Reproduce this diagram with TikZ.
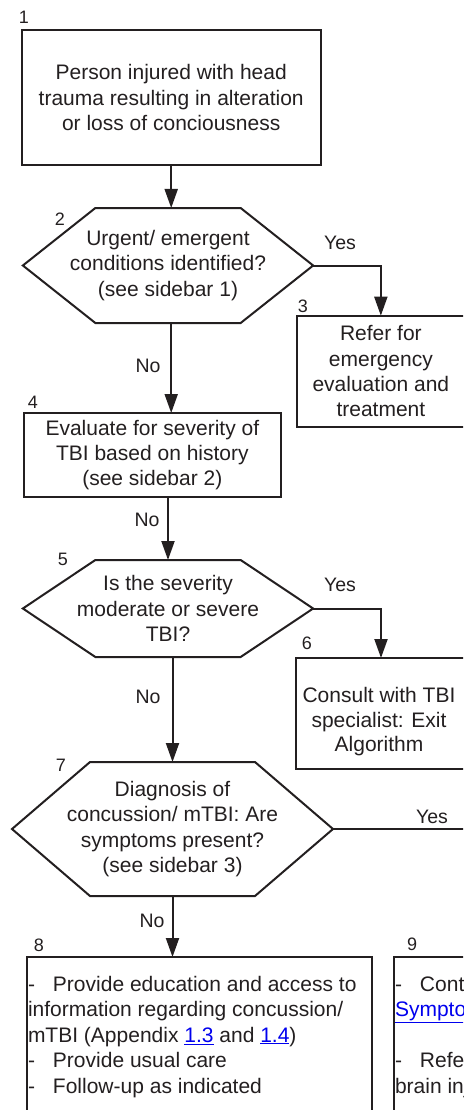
\documentclass[tikz,border=0pt]{standalone}
\usepackage{fontspec}
\setmainfont{Liberation Sans}
\usetikzlibrary{arrows.meta,calc}
\definecolor{ink}{HTML}{231F20}
\definecolor{linkblue}{HTML}{0000EE}
\newcommand{\lnk}[1]{\textcolor{linkblue}{\underline{#1}}}
\newcommand{\dsh}{\makebox[25pt][l]{-}}
\tikzset{
  box/.style={draw=ink, line width=2pt, inner sep=0pt, outer sep=0pt, align=center, text=ink, font=\fontsize{21}{25.4}\selectfont},
  boxtext/.style={inner sep=0pt, outer sep=0pt, align=center, text=ink, font=\fontsize{21}{24.5}\selectfont},
  hexa/.style={inner sep=0pt, outer sep=0pt, align=center, text=ink, font=\fontsize{21}{25.2}\selectfont},
  hexline/.style={draw=ink, line width=2pt, line join=miter},
  num/.style={text=ink, font=\fontsize{18}{20}\selectfont, inner sep=0pt},
  yn/.style={text=ink, font=\fontsize{19.5}{22}\selectfont, inner sep=0pt},
  arr/.style={draw=ink, line width=2pt, -{Triangle[length=19pt,width=13pt]}},
  conn/.style={draw=ink, line width=2pt},
  listtext/.style={text=ink, inner sep=0pt, outer sep=0pt, align=left, font=\fontsize{21}{25.5}\selectfont},
}
\begin{document}
\begin{tikzpicture}[x=1pt,y=-1pt]
\useasboundingbox (0,0) rectangle (463,1110);
\clip (0,0) rectangle (463,1110);

% boxes
\node[box, minimum width=299, minimum height=135] (b1) at (171.2,97.5)
  {Person injured with head\\trauma resulting in alteration\\or loss of conciousness};
\node[num] (n1) at (24,17) {1};

\node[hexa, minimum width=290.3, minimum height=115] (h2) at (168,265.5)
  {Urgent/ emergent\\conditions identified?\\(see sidebar 1)};
\draw[hexline] ([xshift=72.5]h2.north west) -- ([xshift=-72.5]h2.north east) -- (h2.east)
  -- ([xshift=-72.5]h2.south east) -- ([xshift=72.5]h2.south west) -- (h2.west) -- cycle;
\node[num] (n2) at (60,219) {2};

\node[box, minimum width=168.3, minimum height=111.3] (b3) at (380.85,371.35)
  {Refer for\\emergency\\evaluation and\\treatment};
\node[num] (n3) at (303,306) {3};

\node[box, minimum width=256.7, minimum height=84] (b4) at (152.35,455)
  {Evaluate for severity of\\TBI based on history\\(see sidebar 2)};
\node[num] (n4) at (33,402) {4};

\node[hexa, minimum width=290.3, minimum height=97] (h5) at (168,608.5)
  {Is the severity\\moderate or severe\\TBI?};
\draw[hexline] ([xshift=72.5]h5.north west) -- ([xshift=-72.5]h5.north east) -- (h5.east)
  -- ([xshift=-72.5]h5.south east) -- ([xshift=72.5]h5.south west) -- (h5.west) -- cycle;
\node[num] (n5) at (63,559) {5};

\node[box, minimum width=170, minimum height=111] (b6) at (381,713.5) {};
\node[boxtext] (t6) at (379,722) {Consult with TBI\\specialist: Exit\\Algorithm};
\node[num] (n6) at (307,643) {6};

\node[hexa, minimum width=321, minimum height=134] (h7) at (172.5,829)
  {Diagnosis of\\concussion/ mTBI: Are\\symptoms present?\\(see sidebar 3)};
\draw[hexline] ([xshift=78]h7.north west) -- ([xshift=-78]h7.north east) -- (h7.east)
  -- ([xshift=-78]h7.south east) -- ([xshift=78]h7.south west) -- (h7.west) -- cycle;
\node[num] (n7) at (61,765) {7};

\node[box, minimum width=345, minimum height=200, anchor=north west] (b8) at (27,957) {};
\node[num] (n8) at (39,945) {8};
\node[listtext, anchor=north west] (t8) at (28,976)
  {\dsh Provide education and access to\\
   information regarding concussion/\\
   mTBI (Appendix \lnk{1.3} and \lnk{1.4})\\
   \dsh Provide usual care\\
   \dsh Follow-up as indicated};

\node[box, minimum width=345, minimum height=200, anchor=north west] (b9) at (394.3,957) {};
\node[num] (n9) at (412,944) {9};
\node[listtext, anchor=north west] (t9) at (395,976)
  {\dsh Continue\\
   \lnk{Symptom}\\[25.5pt]
   \dsh Refer\\
   brain injury};

% connectors
\draw[arr] (b1.south) -- (b1.south |- h2.north);
\draw[arr] (h2.east) -| (b3.north);
\node[yn] (y2) at (340,243) {Yes};
\draw[arr] (b1.south |- h2.south) -- (b1.south |- b4.north);
\node[yn] (no2) at (148,366) {No};
\draw[arr] (h5.north |- b4.south) -- (h5.north);
\node[yn] (no4) at (147,520) {No};
\draw[arr] (h5.east) -| (b6.north);
\node[yn] (y5) at (340,585) {Yes};
\draw[arr] (h7.north |- h5.south) -- (h7.north);
\node[yn] (no5) at (148,697) {No};
\coordinate (yesend) at (480,829);
\draw[conn] (h7.east) -- (yesend);
\node[yn] (y7) at (432,817) {Yes};
\draw[arr] (h7.south) -- (h7.south |- b8.north);
\node[yn] (no7) at (152,921) {No};
\end{tikzpicture}
\end{document}
